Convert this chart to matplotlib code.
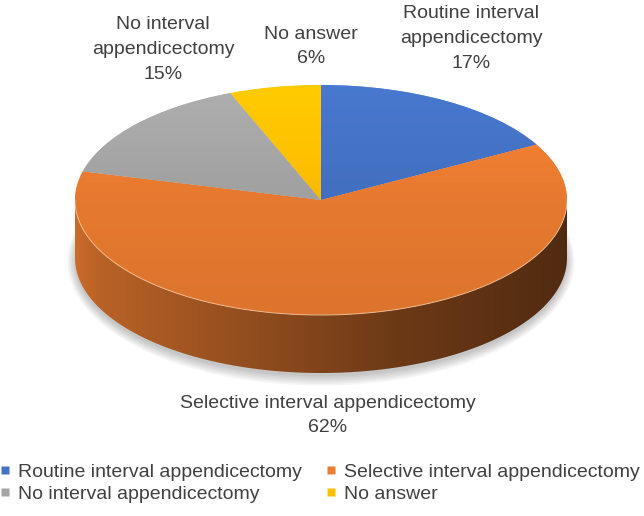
import numpy as np
import matplotlib
matplotlib.use("Agg")
import matplotlib.pyplot as plt
from matplotlib.patches import Polygon, Ellipse
from matplotlib.colors import to_rgb
from matplotlib.lines import Line2D

# ---------------- data ----------------
categories = ["Routine interval appendicectomy",
              "Selective interval appendicectomy",
              "No interval appendicectomy",
              "No answer"]
label_names = ["Routine interval\nappendicectomy",
               "Selective interval appendicectomy",
               "No interval\nappendicectomy",
               "No answer"]
values = [17, 62, 15, 6]
colors = ["#4472C4", "#ED7D31", "#A5A5A5", "#FFC000"]

# ---------------- layout (pixels) ----------------
W, H = 644, 516
CX, CY = 321, 200      # ellipse centre
A, B = 246, 115        # semi-axes
DEPTH = 58             # side depth
label_pos = [(471, 38.5), (328, 415.5), (163, 49.5), (311, 46.5)]
TEXT = "#404040"
FONT = ["Liberation Sans", "DejaVu Sans"]
plt.rcParams["font.family"] = FONT

fig = plt.figure(figsize=(W / 100, H / 100), dpi=100)
ax = fig.add_axes([0, 0, 1, 1])
d = DEPTH / B


def shade(c, f):
    r = np.array(to_rgb(c)) * f
    return np.clip(r, 0, 1)


# soft shadow
for k in range(6):
    e = Ellipse((0.0, -d - 0.03), 2 * (1.0 + 0.006 * k), 2 * (1.0 + 0.016 * k),
                facecolor="#000000", edgecolor="none", alpha=0.04, zorder=0)
    ax.add_patch(e)

wedges, _ = ax.pie(values, colors=colors, startangle=90, counterclock=False,
                   radius=1, center=(0, 0),
                   wedgeprops=dict(edgecolor=(1, 1, 1, 0.35), linewidth=0.6))
ax.set_aspect("auto")
ax.set_xlim((0 - CX) / A, (W - CX) / A)
ax.set_ylim((CY - H) / B, CY / B)
ax.axis("off")

for w in wedges:
    w.set_zorder(3)

# side walls for front-facing arcs
xs_grid = np.linspace(-1, 1, 400)
for w, c in zip(wedges, colors):
    t1, t2 = w.theta1, w.theta2
    for k in (-360, 0, 360):
        a0 = max(t1, 180 + k)
        a1 = min(t2, 360 + k)
        if a1 <= a0:
            continue
        th = np.radians(np.linspace(a0, a1, 200))
        xt, yt = np.cos(th), np.sin(th)
        pts = np.vstack([np.column_stack([xt, yt]),
                         np.column_stack([xt[::-1], yt[::-1] - d])])
        poly = Polygon(pts, closed=True, facecolor="none", edgecolor="none", zorder=2)
        ax.add_patch(poly)
        fac = np.interp(xs_grid, [-1, -0.9, -0.3, 0.3, 0.9, 1.0],
                        [0.86, 0.78, 0.62, 0.46, 0.36, 0.34])
        img = np.array([shade(c, f) for f in fac])[None, :, :]
        im = ax.imshow(img, extent=(-1, 1, -1 - d, 0.05), aspect="auto",
                       interpolation="bilinear", zorder=2)
        im.set_clip_path(poly)

# vertical gradient on top faces
ys_grid = np.linspace(-1, 1, 200)
for w, c in zip(wedges, colors):
    fac = np.interp(ys_grid, [-1, 0, 1], [0.93, 0.97, 1.06])
    img = np.array([shade(c, f) for f in fac])[:, None, :][::-1]
    im = ax.imshow(img, extent=(-1, 1, -1, 1), aspect="auto",
                   interpolation="bilinear", zorder=3.5)
    im.set_clip_path(w)

# rim highlight
th = np.radians(np.linspace(180, 360, 300))
ax.plot(np.cos(th), np.sin(th), color=(1, 0.85, 0.7, 0.5), lw=0.8, zorder=4)

# ---------------- labels ----------------
tx = fig.add_axes([0, 0, 1, 1], facecolor="none")
tx.set_xlim(0, W)
tx.set_ylim(H, 0)
tx.axis("off")
total = sum(values)
for name, v, (px, py) in zip(label_names, values, label_pos):
    tx.text(px, py, f"{name}\n{round(100 * v / total)}%", ha="center", va="center",
            fontsize=14, color=TEXT, linespacing=1.58)

# ---------------- legend ----------------
order = [0, 2, 1, 3]
handles = [Line2D([], [], marker="s", linestyle="none", markersize=6,
                  markerfacecolor=colors[i], markeredgecolor="none") for i in order]
fig.legend(handles, [categories[i] for i in order], ncol=2,
           loc="upper left", bbox_to_anchor=(0.0, 1 - 463 / H),
           frameon=False, fontsize=14, labelcolor=TEXT,
           borderpad=0, borderaxespad=0, handlelength=0.5, handletextpad=0.45,
           columnspacing=1.2, labelspacing=0.25)

fig.savefig("out.png", dpi=100)
